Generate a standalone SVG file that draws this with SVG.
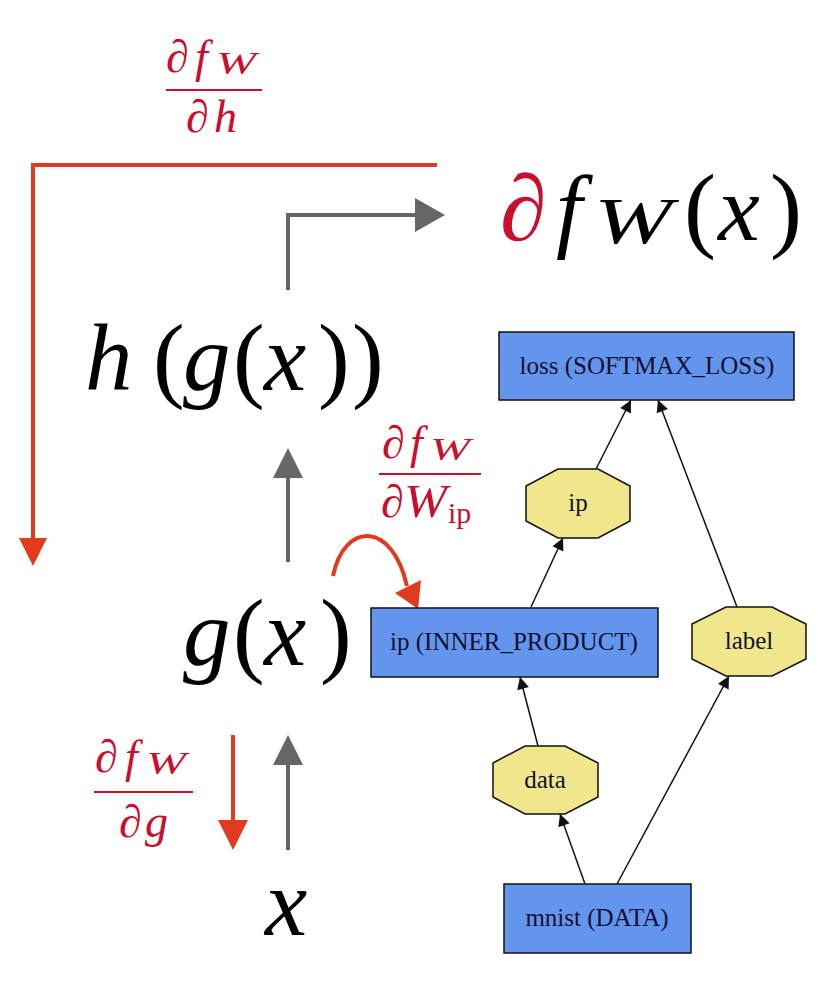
<svg xmlns="http://www.w3.org/2000/svg" width="838" height="996" viewBox="0 0 838 996">
<defs>
<style>
.red{fill:#c8102e;}
.blk{fill:#000;}
.gtxt{font-size:25px;fill:#111133;text-anchor:middle;}
.box{fill:#6495ed;stroke:#111;stroke-width:1.5;}
.oct{fill:#f0e68c;stroke:#111;stroke-width:1.5;}
.edge{stroke:#111;stroke-width:1.5;fill:none;}
.gray{stroke:#666;stroke-width:4;fill:none;}
.redl{stroke:#e23a1e;stroke-width:4;fill:none;}
.bar{stroke:#c8102e;stroke-width:2;}
.up{font-style:normal;}
</style>
<marker id="ah2" viewBox="0 0 10 10" refX="10" refY="5" markerWidth="14" markerHeight="12" markerUnits="userSpaceOnUse" orient="auto"><path d="M0,0 L10,5 L0,10 z" fill="#111"/></marker>
</defs>
<rect width="838" height="996" fill="#fff"/>

<g id="connectors">
<path class="redl" d="M437,165 H33 V540"/>
<polygon points="19,538 47,538 33,566" fill="#e23a1e"/>
<path class="gray" d="M288,290 V215 H417"/>
<polygon points="415,198 445,215 415,232" fill="#666"/>
<line class="gray" x1="288" y1="562" x2="288" y2="476"/>
<polygon points="273,478 303,478 288,448" fill="#666"/>
<line class="gray" x1="288" y1="850" x2="288" y2="763"/>
<polygon points="273,765 303,765 288,735" fill="#666"/>
<line class="redl" x1="233" y1="735" x2="233" y2="822"/>
<polygon points="218,820 248,820 233,850" fill="#e23a1e"/>
<path class="redl" d="M333,576 C344,522 392,520 407,586"/>
<polygon points="395,593 421,580 418,609" fill="#e23a1e"/>
<line class="edge" x1="596" y1="469" x2="631" y2="400" marker-end="url(#ah2)"/>
<line class="edge" x1="737" y1="607" x2="658" y2="400" marker-end="url(#ah2)"/>
<line class="edge" x1="531" y1="607" x2="563" y2="538" marker-end="url(#ah2)"/>
<line class="edge" x1="538" y1="746" x2="520" y2="677" marker-end="url(#ah2)"/>
<line class="edge" x1="585" y1="884" x2="560" y2="814" marker-end="url(#ah2)"/>
<line class="edge" x1="617" y1="884" x2="729" y2="676" marker-end="url(#ah2)"/>
</g>

<g id="frac-h" class="red" font-family="Liberation Serif, DejaVu Serif, serif" font-style="italic">
<text x="166" y="72" font-size="46">∂</text>
<text x="195" y="72" font-size="46">f</text>
<text x="216" y="74" font-size="31" textLength="40" lengthAdjust="spacingAndGlyphs">W</text>
<line class="bar" x1="166" y1="90" x2="262" y2="90"/>
<text x="186" y="132" font-size="46">∂</text>
<text x="214" y="132" font-size="46">h</text>
</g>

<g id="output" font-family="Liberation Serif, DejaVu Serif, serif" font-style="italic">
<text class="red" x="500" y="240" font-size="94">∂</text>
<text class="blk" x="556" y="240" font-size="94">f</text>
<text class="blk" x="594" y="243" font-size="66" textLength="78" lengthAdjust="spacingAndGlyphs">W</text>
<text class="blk up" x="684" y="240" font-size="96">(</text>
<text class="blk" x="718" y="240" font-size="94">x</text>
<text class="blk up" x="770" y="240" font-size="96">)</text>
</g>

<g id="hgx" font-family="Liberation Serif, DejaVu Serif, serif" font-style="italic" font-size="95">
<text class="blk" x="85" y="390">h</text>
<text class="blk up" x="153" y="390">(</text>
<text class="blk" x="183" y="390">g</text>
<text class="blk up" x="233" y="390">(</text>
<text class="blk" x="264" y="390">x</text>
<text class="blk up" x="318" y="390">)</text>
<text class="blk up" x="352" y="390">)</text>
</g>

<g id="frac-wip" class="red" font-family="Liberation Serif, DejaVu Serif, serif" font-style="italic">
<text x="382" y="458" font-size="46">∂</text>
<text x="410" y="458" font-size="46">f</text>
<text x="430" y="460" font-size="31" textLength="40" lengthAdjust="spacingAndGlyphs">W</text>
<line class="bar" x1="379" y1="474" x2="481" y2="474"/>
<text x="381" y="517" font-size="46">∂</text>
<text x="404" y="517" font-size="46" textLength="43" lengthAdjust="spacingAndGlyphs">W</text>
<text class="up" x="448" y="523" font-size="30">ip</text>
</g>

<g id="gx" font-family="Liberation Serif, DejaVu Serif, serif" font-style="italic" font-size="95">
<text class="blk" x="183" y="665">g</text>
<text class="blk up" x="233" y="665">(</text>
<text class="blk" x="264" y="665">x</text>
<text class="blk up" x="320" y="665">)</text>
</g>

<g id="frac-g" class="red" font-family="Liberation Serif, DejaVu Serif, serif" font-style="italic">
<text x="95" y="772" font-size="46">∂</text>
<text x="125" y="772" font-size="46">f</text>
<text x="146" y="774" font-size="31" textLength="40" lengthAdjust="spacingAndGlyphs">W</text>
<line class="bar" x1="94" y1="792" x2="193" y2="792"/>
<text x="119" y="837" font-size="46">∂</text>
<text x="145" y="837" font-size="46">g</text>
</g>

<g id="x" font-family="Liberation Serif, DejaVu Serif, serif" font-style="italic">
<text class="blk" x="265" y="935" font-size="95">x</text>
</g>

<g font-family="Liberation Serif, DejaVu Serif, serif">
<g id="node-loss">
<rect class="box" x="499" y="332" width="295" height="68"/>
<text class="gtxt" x="647" y="374">loss (SOFTMAX_LOSS)</text>
</g>
<g id="node-ip-blob">
<polygon class="oct" points="558,469 598,469 630,486 630,521 598,538 558,538 526,521 526,486"/>
<text class="gtxt" x="578" y="511">ip</text>
</g>
<g id="node-ip">
<rect class="box" x="371" y="608" width="287" height="69"/>
<text class="gtxt" x="514" y="650">ip (INNER_PRODUCT)</text>
</g>
<g id="node-label">
<polygon class="oct" points="726,607 772,607 806,624 806,659 772,676 726,676 692,659 692,624"/>
<text class="gtxt" x="749" y="649">label</text>
</g>
<g id="node-data">
<polygon class="oct" points="525,746 565,746 598,763 598,797 565,814 525,814 493,797 493,763"/>
<text class="gtxt" x="545" y="788">data</text>
</g>
<g id="node-mnist">
<rect class="box" x="504" y="884" width="187" height="69"/>
<text class="gtxt" x="597" y="926">mnist (DATA)</text>
</g>
</g>
</svg>
